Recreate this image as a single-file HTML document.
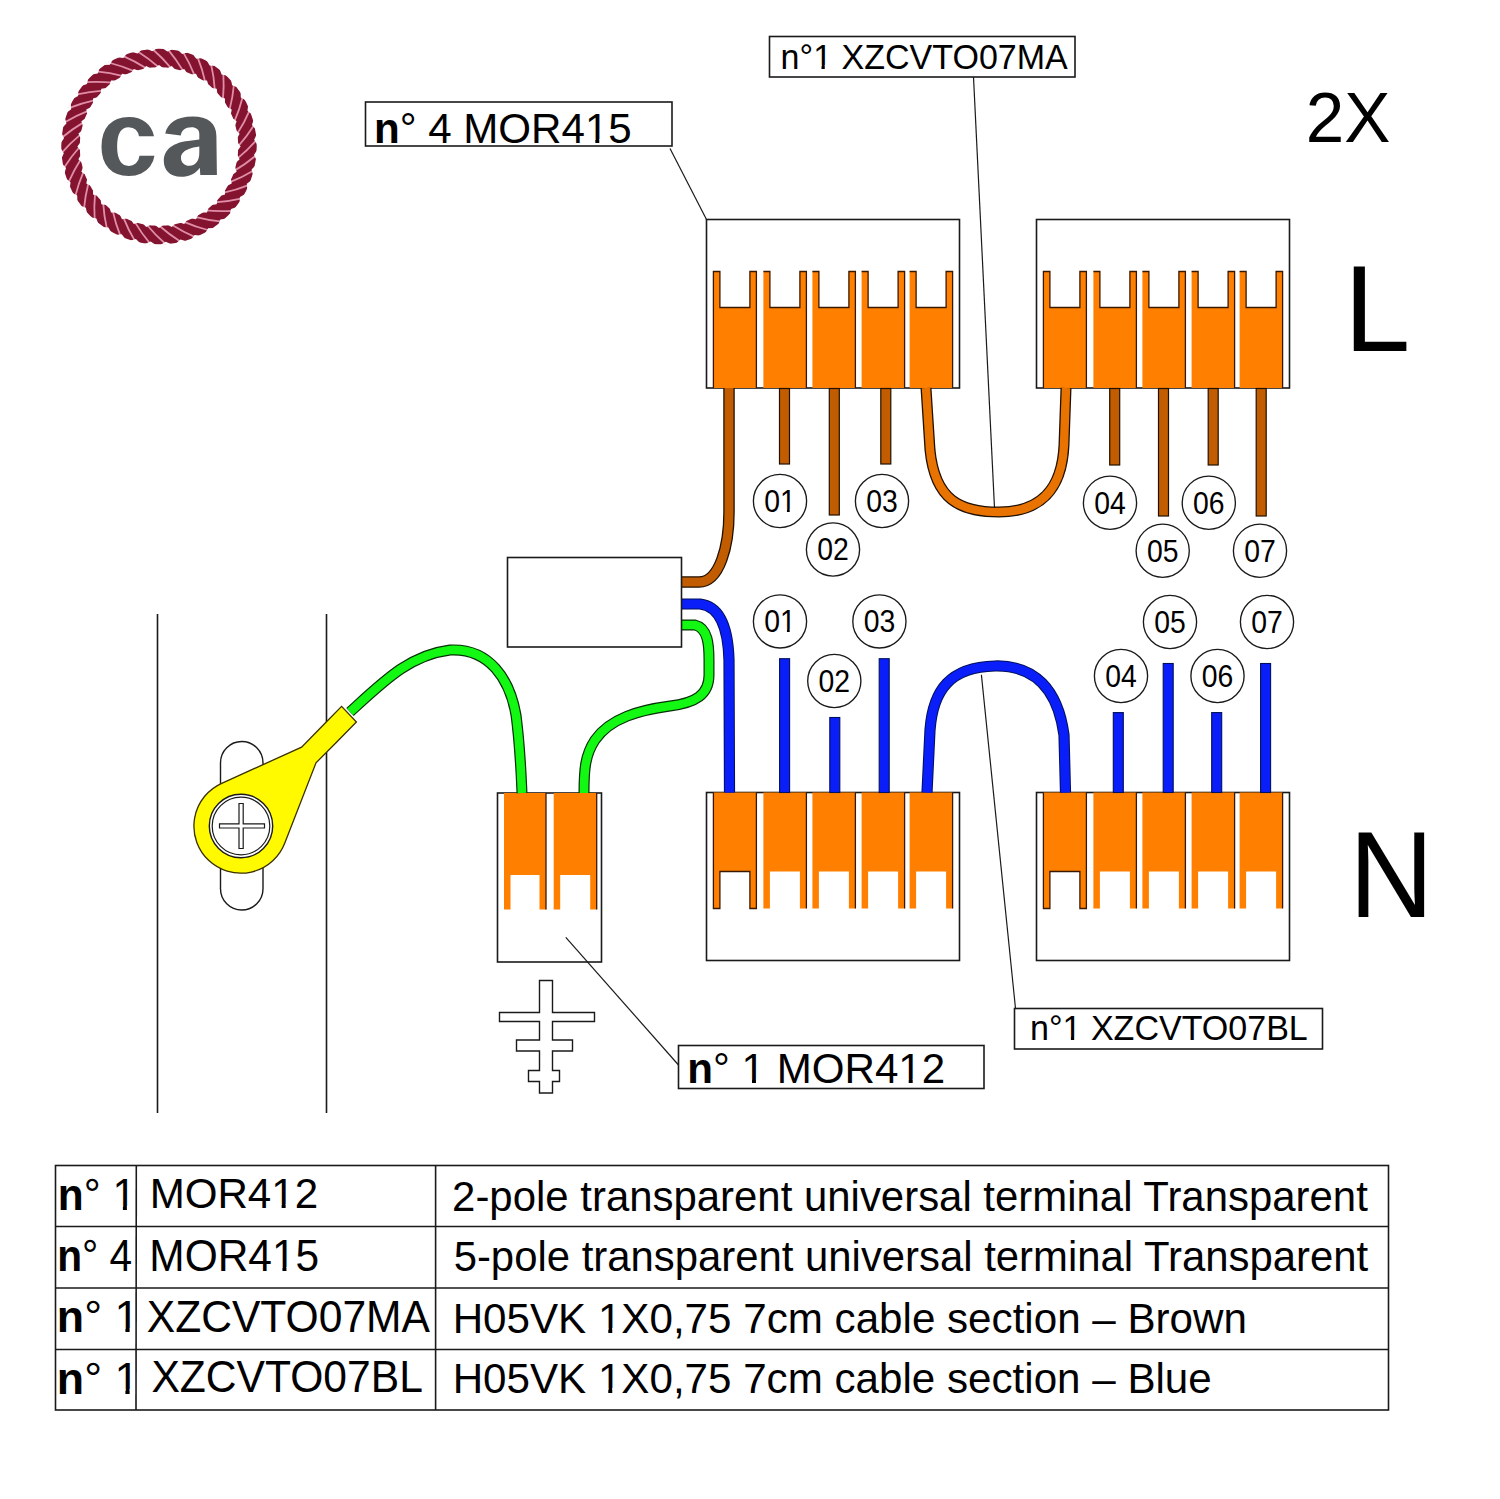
<!DOCTYPE html>
<html><head><meta charset="utf-8"><style>
html,body{margin:0;padding:0;background:#fff;width:1500px;height:1499px;overflow:hidden}
svg{display:block}
</style></head><body>
<svg width="1500" height="1499" viewBox="0 0 1500 1499">
<circle cx="159" cy="146.5" r="88.5" fill="none" stroke="#84132F" stroke-width="18.5"/>
<path d="M238.0,146.5 Q246.9,136.5 254.5,124.5" fill="none" stroke="#E08EA8" stroke-width="1.8"/>
<path d="M253.7,119.0 L252.0,125.0 L256.2,129.7 Z" fill="#fff"/>
<path d="M237.3,142.1 L240.6,146.5 L237.3,150.9 Z" fill="#fff"/>
<path d="M237.0,158.9 Q247.4,150.4 256.8,139.7" fill="none" stroke="#E08EA8" stroke-width="1.8"/>
<path d="M256.8,134.1 L254.2,139.8 L257.6,145.1 Z" fill="#fff"/>
<path d="M237.0,154.4 L239.6,159.3 L235.6,163.1 Z" fill="#fff"/>
<path d="M234.1,170.9 Q245.7,164.1 256.6,155.0" fill="none" stroke="#E08EA8" stroke-width="1.8"/>
<path d="M257.6,149.6 L254.0,154.8 L256.6,160.6 Z" fill="#fff"/>
<path d="M234.8,166.5 L236.6,171.7 L232.1,174.9 Z" fill="#fff"/>
<path d="M229.4,182.4 Q241.9,177.5 254.1,170.2" fill="none" stroke="#E08EA8" stroke-width="1.8"/>
<path d="M255.9,165.0 L251.6,169.6 L253.2,175.7 Z" fill="#fff"/>
<path d="M230.7,178.1 L231.7,183.5 L226.8,185.9 Z" fill="#fff"/>
<path d="M222.9,192.9 Q236.0,190.1 249.2,184.8" fill="none" stroke="#E08EA8" stroke-width="1.8"/>
<path d="M251.8,179.9 L246.8,183.8 L247.5,190.0 Z" fill="#fff"/>
<path d="M224.9,189.0 L225.0,194.5 L219.8,196.1 Z" fill="#fff"/>
<path d="M214.9,202.4 Q228.3,201.6 242.1,198.4" fill="none" stroke="#E08EA8" stroke-width="1.8"/>
<path d="M245.4,194.0 L239.9,197.1 L239.6,203.3 Z" fill="#fff"/>
<path d="M217.4,198.8 L216.7,204.2 L211.3,204.9 Z" fill="#fff"/>
<path d="M205.4,210.4 Q218.8,211.7 233.0,210.8" fill="none" stroke="#E08EA8" stroke-width="1.8"/>
<path d="M236.9,206.9 L231.0,209.1 L229.7,215.2 Z" fill="#fff"/>
<path d="M208.6,207.3 L207.0,212.5 L201.5,212.4 Z" fill="#fff"/>
<path d="M194.9,216.9 Q207.8,220.3 222.0,221.6" fill="none" stroke="#E08EA8" stroke-width="1.8"/>
<path d="M226.5,218.4 L220.3,219.6 L218.1,225.5 Z" fill="#fff"/>
<path d="M198.4,214.3 L196.0,219.2 L190.6,218.2 Z" fill="#fff"/>
<path d="M183.4,221.6 Q195.7,227.0 209.5,230.5" fill="none" stroke="#E08EA8" stroke-width="1.8"/>
<path d="M214.4,228.1 L208.1,228.3 L205.0,233.7 Z" fill="#fff"/>
<path d="M187.4,219.6 L184.2,224.1 L179.0,222.3 Z" fill="#fff"/>
<path d="M171.4,224.5 Q182.7,231.8 195.7,237.4" fill="none" stroke="#E08EA8" stroke-width="1.8"/>
<path d="M201.0,235.7 L194.7,235.0 L190.8,239.8 Z" fill="#fff"/>
<path d="M175.6,223.1 L171.8,227.1 L166.9,224.5 Z" fill="#fff"/>
<path d="M159.0,225.5 Q169.0,234.4 181.0,242.0" fill="none" stroke="#E08EA8" stroke-width="1.8"/>
<path d="M186.5,241.2 L180.5,239.5 L175.8,243.7 Z" fill="#fff"/>
<path d="M163.4,224.8 L159.0,228.1 L154.6,224.8 Z" fill="#fff"/>
<path d="M146.6,224.5 Q155.1,234.9 165.8,244.3" fill="none" stroke="#E08EA8" stroke-width="1.8"/>
<path d="M171.4,244.3 L165.7,241.7 L160.4,245.1 Z" fill="#fff"/>
<path d="M151.1,224.5 L146.2,227.1 L142.4,223.1 Z" fill="#fff"/>
<path d="M134.6,221.6 Q141.4,233.2 150.5,244.1" fill="none" stroke="#E08EA8" stroke-width="1.8"/>
<path d="M155.9,245.1 L150.7,241.5 L144.9,244.1 Z" fill="#fff"/>
<path d="M139.0,222.3 L133.8,224.1 L130.6,219.6 Z" fill="#fff"/>
<path d="M123.1,216.9 Q128.0,229.4 135.3,241.6" fill="none" stroke="#E08EA8" stroke-width="1.8"/>
<path d="M140.5,243.4 L135.9,239.1 L129.8,240.7 Z" fill="#fff"/>
<path d="M127.4,218.2 L122.0,219.2 L119.6,214.3 Z" fill="#fff"/>
<path d="M112.6,210.4 Q115.4,223.5 120.7,236.7" fill="none" stroke="#E08EA8" stroke-width="1.8"/>
<path d="M125.6,239.3 L121.7,234.3 L115.5,235.0 Z" fill="#fff"/>
<path d="M116.5,212.4 L111.0,212.5 L109.4,207.3 Z" fill="#fff"/>
<path d="M103.1,202.4 Q103.9,215.8 107.1,229.6" fill="none" stroke="#E08EA8" stroke-width="1.8"/>
<path d="M111.5,232.9 L108.4,227.4 L102.2,227.1 Z" fill="#fff"/>
<path d="M106.7,204.9 L101.3,204.2 L100.6,198.8 Z" fill="#fff"/>
<path d="M95.1,192.9 Q93.8,206.3 94.7,220.5" fill="none" stroke="#E08EA8" stroke-width="1.8"/>
<path d="M98.6,224.4 L96.4,218.5 L90.3,217.2 Z" fill="#fff"/>
<path d="M98.2,196.1 L93.0,194.5 L93.1,189.0 Z" fill="#fff"/>
<path d="M88.6,182.4 Q85.2,195.3 83.9,209.5" fill="none" stroke="#E08EA8" stroke-width="1.8"/>
<path d="M87.1,214.0 L85.9,207.8 L80.0,205.6 Z" fill="#fff"/>
<path d="M91.2,185.9 L86.3,183.5 L87.3,178.1 Z" fill="#fff"/>
<path d="M83.9,170.9 Q78.5,183.2 75.0,197.0" fill="none" stroke="#E08EA8" stroke-width="1.8"/>
<path d="M77.4,201.9 L77.2,195.6 L71.8,192.5 Z" fill="#fff"/>
<path d="M85.9,174.9 L81.4,171.7 L83.2,166.5 Z" fill="#fff"/>
<path d="M81.0,158.9 Q73.7,170.2 68.1,183.2" fill="none" stroke="#E08EA8" stroke-width="1.8"/>
<path d="M69.8,188.5 L70.5,182.2 L65.7,178.3 Z" fill="#fff"/>
<path d="M82.4,163.1 L78.4,159.3 L81.0,154.4 Z" fill="#fff"/>
<path d="M80.0,146.5 Q71.1,156.5 63.5,168.5" fill="none" stroke="#E08EA8" stroke-width="1.8"/>
<path d="M64.3,174.0 L66.0,168.0 L61.8,163.3 Z" fill="#fff"/>
<path d="M80.7,150.9 L77.4,146.5 L80.7,142.1 Z" fill="#fff"/>
<path d="M81.0,134.1 Q70.6,142.6 61.2,153.3" fill="none" stroke="#E08EA8" stroke-width="1.8"/>
<path d="M61.2,158.9 L63.8,153.2 L60.4,147.9 Z" fill="#fff"/>
<path d="M81.0,138.6 L78.4,133.7 L82.4,129.9 Z" fill="#fff"/>
<path d="M83.9,122.1 Q72.3,128.9 61.4,138.0" fill="none" stroke="#E08EA8" stroke-width="1.8"/>
<path d="M60.4,143.4 L64.0,138.2 L61.4,132.4 Z" fill="#fff"/>
<path d="M83.2,126.5 L81.4,121.3 L85.9,118.1 Z" fill="#fff"/>
<path d="M88.6,110.6 Q76.1,115.5 63.9,122.8" fill="none" stroke="#E08EA8" stroke-width="1.8"/>
<path d="M62.1,128.0 L66.4,123.4 L64.8,117.3 Z" fill="#fff"/>
<path d="M87.3,114.9 L86.3,109.5 L91.2,107.1 Z" fill="#fff"/>
<path d="M95.1,100.1 Q82.0,102.9 68.8,108.2" fill="none" stroke="#E08EA8" stroke-width="1.8"/>
<path d="M66.2,113.1 L71.2,109.2 L70.5,103.0 Z" fill="#fff"/>
<path d="M93.1,104.0 L93.0,98.5 L98.2,96.9 Z" fill="#fff"/>
<path d="M103.1,90.6 Q89.7,91.4 75.9,94.6" fill="none" stroke="#E08EA8" stroke-width="1.8"/>
<path d="M72.6,99.0 L78.1,95.9 L78.4,89.7 Z" fill="#fff"/>
<path d="M100.6,94.2 L101.3,88.8 L106.7,88.1 Z" fill="#fff"/>
<path d="M112.6,82.6 Q99.2,81.3 85.0,82.2" fill="none" stroke="#E08EA8" stroke-width="1.8"/>
<path d="M81.1,86.1 L87.0,83.9 L88.3,77.8 Z" fill="#fff"/>
<path d="M109.4,85.7 L111.0,80.5 L116.5,80.6 Z" fill="#fff"/>
<path d="M123.1,76.1 Q110.2,72.7 96.0,71.4" fill="none" stroke="#E08EA8" stroke-width="1.8"/>
<path d="M91.5,74.6 L97.7,73.4 L99.9,67.5 Z" fill="#fff"/>
<path d="M119.6,78.7 L122.0,73.8 L127.4,74.8 Z" fill="#fff"/>
<path d="M134.6,71.4 Q122.3,66.0 108.5,62.5" fill="none" stroke="#E08EA8" stroke-width="1.8"/>
<path d="M103.6,64.9 L109.9,64.7 L113.0,59.3 Z" fill="#fff"/>
<path d="M130.6,73.4 L133.8,68.9 L139.0,70.7 Z" fill="#fff"/>
<path d="M146.6,68.5 Q135.3,61.2 122.3,55.6" fill="none" stroke="#E08EA8" stroke-width="1.8"/>
<path d="M117.0,57.3 L123.3,58.0 L127.2,53.2 Z" fill="#fff"/>
<path d="M142.4,69.9 L146.2,65.9 L151.1,68.5 Z" fill="#fff"/>
<path d="M159.0,67.5 Q149.0,58.6 137.0,51.0" fill="none" stroke="#E08EA8" stroke-width="1.8"/>
<path d="M131.5,51.8 L137.5,53.5 L142.2,49.3 Z" fill="#fff"/>
<path d="M154.6,68.2 L159.0,64.9 L163.4,68.2 Z" fill="#fff"/>
<path d="M171.4,68.5 Q162.9,58.1 152.2,48.7" fill="none" stroke="#E08EA8" stroke-width="1.8"/>
<path d="M146.6,48.7 L152.3,51.3 L157.6,47.9 Z" fill="#fff"/>
<path d="M166.9,68.5 L171.8,65.9 L175.6,69.9 Z" fill="#fff"/>
<path d="M183.4,71.4 Q176.6,59.8 167.5,48.9" fill="none" stroke="#E08EA8" stroke-width="1.8"/>
<path d="M162.1,47.9 L167.3,51.5 L173.1,48.9 Z" fill="#fff"/>
<path d="M179.0,70.7 L184.2,68.9 L187.4,73.4 Z" fill="#fff"/>
<path d="M194.9,76.1 Q190.0,63.6 182.7,51.4" fill="none" stroke="#E08EA8" stroke-width="1.8"/>
<path d="M177.5,49.6 L182.1,53.9 L188.2,52.3 Z" fill="#fff"/>
<path d="M190.6,74.8 L196.0,73.8 L198.4,78.7 Z" fill="#fff"/>
<path d="M205.4,82.6 Q202.6,69.5 197.3,56.3" fill="none" stroke="#E08EA8" stroke-width="1.8"/>
<path d="M192.4,53.7 L196.3,58.7 L202.5,58.0 Z" fill="#fff"/>
<path d="M201.5,80.6 L207.0,80.5 L208.6,85.7 Z" fill="#fff"/>
<path d="M214.9,90.6 Q214.1,77.2 210.9,63.4" fill="none" stroke="#E08EA8" stroke-width="1.8"/>
<path d="M206.5,60.1 L209.6,65.6 L215.8,65.9 Z" fill="#fff"/>
<path d="M211.3,88.1 L216.7,88.8 L217.4,94.2 Z" fill="#fff"/>
<path d="M222.9,100.1 Q224.2,86.7 223.3,72.5" fill="none" stroke="#E08EA8" stroke-width="1.8"/>
<path d="M219.4,68.6 L221.6,74.5 L227.7,75.8 Z" fill="#fff"/>
<path d="M219.8,96.9 L225.0,98.5 L224.9,104.0 Z" fill="#fff"/>
<path d="M229.4,110.6 Q232.8,97.7 234.1,83.5" fill="none" stroke="#E08EA8" stroke-width="1.8"/>
<path d="M230.9,79.0 L232.1,85.2 L238.0,87.4 Z" fill="#fff"/>
<path d="M226.8,107.1 L231.7,109.5 L230.7,114.9 Z" fill="#fff"/>
<path d="M234.1,122.1 Q239.5,109.8 243.0,96.0" fill="none" stroke="#E08EA8" stroke-width="1.8"/>
<path d="M240.6,91.1 L240.8,97.4 L246.2,100.5 Z" fill="#fff"/>
<path d="M232.1,118.1 L236.6,121.3 L234.8,126.5 Z" fill="#fff"/>
<path d="M237.0,134.1 Q244.3,122.8 249.9,109.8" fill="none" stroke="#E08EA8" stroke-width="1.8"/>
<path d="M248.2,104.5 L247.5,110.8 L252.3,114.7 Z" fill="#fff"/>
<path d="M235.6,129.9 L239.6,133.7 L237.0,138.6 Z" fill="#fff"/>
<text transform="translate(97.36,175.10) scale(1.0022,1)" font-family='"Liberation Sans", sans-serif' font-size="108.33" font-weight="bold" fill="#55585B">c</text>
<path fill-rule="evenodd" fill="#55585B" d="M165.2,133.5 C167.5,123 177,116.5 192.6,116.5 C208,116.5 216.4,123.5 216.4,136 L216.9,174.9 L200.3,174.9 L199.8,167.7 C196,173.5 189,176.8 181,176.8 C170,176.8 163.8,170 163.8,161 C163.8,149 174,142.5 188,141 L199.3,139.5 L199.3,134 C199.3,129.5 196,127.3 191.6,127.3 C185,127.3 181.5,130.5 180.8,135.5 Z M199.3,146.5 C192,147.5 181,150 181,158 C181,162.5 184.5,165.8 189.5,165.8 C196,165.8 199.3,160 199.3,153 Z"/>
<rect x="365.5" y="102" width="306.5" height="44" fill="#fff" stroke="#1a1a1a" stroke-width="1.6"/>
<text transform="translate(373.95,143.40) scale(0.9826,1)" font-family='"Liberation Sans", sans-serif' font-size="42.86" font-weight="normal" fill="#000"><tspan font-weight="bold">n</tspan>° 4 MOR415</text>
<rect x="587" y="139" width="8.31" height="5" fill="#fff"/>
<rect x="599.29" y="139" width="8.71" height="5" fill="#fff"/>
<rect x="769.5" y="36.5" width="305.5" height="40.5" fill="#fff" stroke="#1a1a1a" stroke-width="1.6"/>
<text transform="translate(780.62,68.80) scale(0.9966,1)" font-family='"Liberation Sans", sans-serif' font-size="34.14" font-weight="normal" fill="#000">n°1 XZCVTO07MA</text>
<rect x="814" y="65" width="7.50" height="5" fill="#fff"/>
<rect x="824.77" y="65" width="7.23" height="5" fill="#fff"/>
<rect x="678.5" y="1045.5" width="305.5" height="43" fill="#fff" stroke="#1a1a1a" stroke-width="1.6"/>
<text transform="translate(687.35,1082.70) scale(0.9994,1)" font-family='"Liberation Sans", sans-serif' font-size="42.14" font-weight="normal" fill="#000"><tspan font-weight="bold">n</tspan>° 1 MOR412</text>
<rect x="743" y="1079" width="8.98" height="4" fill="#fff"/>
<rect x="755.96" y="1079" width="8.04" height="4" fill="#fff"/>
<rect x="900" y="1079" width="8.71" height="4" fill="#fff"/>
<rect x="912.70" y="1079" width="8.30" height="4" fill="#fff"/>
<rect x="1014.5" y="1008.5" width="308" height="40.5" fill="#fff" stroke="#1a1a1a" stroke-width="1.6"/>
<text transform="translate(1030.02,1040.00) scale(0.9844,1)" font-family='"Liberation Sans", sans-serif' font-size="34.57" font-weight="normal" fill="#000">n°1 XZCVTO07BL</text>
<rect x="1064" y="1037" width="6.90" height="4" fill="#fff"/>
<rect x="1074.18" y="1037" width="6.82" height="4" fill="#fff"/>
<text transform="translate(1305.74,141.60) scale(0.9848,1)" font-family='"Liberation Sans", sans-serif' font-size="70.29" font-weight="normal" fill="#000">2X</text>
<text transform="translate(1344.05,351.00) scale(0.9778,1)" font-family='"Liberation Sans", sans-serif' font-size="122.03" font-weight="normal" fill="#000">L</text>
<text transform="translate(1348.91,916.80) scale(0.9626,1)" font-family='"Liberation Sans", sans-serif' font-size="121.88" font-weight="normal" fill="#000">N</text>
<line x1="157.5" y1="614" x2="157.5" y2="1113" stroke="#1a1a1a" stroke-width="1.6"/>
<line x1="326.5" y1="614" x2="326.5" y2="1113" stroke="#1a1a1a" stroke-width="1.6"/>
<rect x="706.5" y="219.5" width="253" height="168.5" fill="#fff" stroke="#1a1a1a" stroke-width="1.6"/>
<path d="M713.4,388 V271.5 H719.9 V307.5 H749.9 V271.5 H756.4 V388 Z" fill="#FF8000"/>
<path d="M713.4,388 V271.5 H719.9 V307.5 H749.9 V271.5 H756.4 V388" fill="none" stroke="#3a1800" stroke-width="1.3"/>
<path d="M763.4,388 V271.5 H769.9 V307.5 H799.9 V271.5 H806.4 V388 Z" fill="#FF8000"/>
<path d="M763.4,271.5 H769.9 V307.5 H799.9 V271.5 H806.4 V388" fill="none" stroke="#3a1800" stroke-width="1.3"/>
<path d="M812.4,388 V271.5 H818.9 V307.5 H848.9 V271.5 H855.4 V388 Z" fill="#FF8000"/>
<path d="M812.4,271.5 H818.9 V307.5 H848.9 V271.5 H855.4 V388" fill="none" stroke="#3a1800" stroke-width="1.3"/>
<path d="M861.6,388 V271.5 H868.1 V307.5 H898.1 V271.5 H904.6 V388 Z" fill="#FF8000"/>
<path d="M861.6,271.5 H868.1 V307.5 H898.1 V271.5 H904.6 V388" fill="none" stroke="#3a1800" stroke-width="1.3"/>
<path d="M909.6,388 V271.5 H916.1 V307.5 H946.1 V271.5 H952.6 V388 Z" fill="#FF8000"/>
<path d="M909.6,271.5 H916.1 V307.5 H946.1 V271.5 H952.6 V388" fill="none" stroke="#3a1800" stroke-width="1.3"/>
<rect x="1036.5" y="219.5" width="253" height="168.5" fill="#fff" stroke="#1a1a1a" stroke-width="1.6"/>
<path d="M1043.4,388 V271.5 H1049.9 V307.5 H1079.9 V271.5 H1086.4 V388 Z" fill="#FF8000"/>
<path d="M1043.4,388 V271.5 H1049.9 V307.5 H1079.9 V271.5 H1086.4 V388" fill="none" stroke="#3a1800" stroke-width="1.3"/>
<path d="M1093.4,388 V271.5 H1099.9 V307.5 H1129.9 V271.5 H1136.4 V388 Z" fill="#FF8000"/>
<path d="M1093.4,271.5 H1099.9 V307.5 H1129.9 V271.5 H1136.4 V388" fill="none" stroke="#3a1800" stroke-width="1.3"/>
<path d="M1142.4,388 V271.5 H1148.9 V307.5 H1178.9 V271.5 H1185.4 V388 Z" fill="#FF8000"/>
<path d="M1142.4,271.5 H1148.9 V307.5 H1178.9 V271.5 H1185.4 V388" fill="none" stroke="#3a1800" stroke-width="1.3"/>
<path d="M1191.6,388 V271.5 H1198.1 V307.5 H1228.1 V271.5 H1234.6 V388 Z" fill="#FF8000"/>
<path d="M1191.6,271.5 H1198.1 V307.5 H1228.1 V271.5 H1234.6 V388" fill="none" stroke="#3a1800" stroke-width="1.3"/>
<path d="M1239.6,388 V271.5 H1246.1 V307.5 H1276.1 V271.5 H1282.6 V388 Z" fill="#FF8000"/>
<path d="M1239.6,271.5 H1246.1 V307.5 H1276.1 V271.5 H1282.6 V388" fill="none" stroke="#3a1800" stroke-width="1.3"/>
<rect x="706.5" y="792.5" width="253" height="168" fill="#fff" stroke="#1a1a1a" stroke-width="1.6"/>
<path d="M713.4,792.5 V908.5 H719.9 V871.5 H749.9 V908.5 H756.4 V792.5 Z" fill="#FF8000"/>
<path d="M713.4,792.5 V908.5 H719.9 V871.5 H749.9 V908.5 H756.4 V792.5" fill="none" stroke="#3a1800" stroke-width="1.3"/>
<path d="M763.4,792.5 V908.5 H769.9 V871.5 H799.9 V908.5 H806.4 V792.5 Z" fill="#FF8000"/>
<path d="M806.4,908.5 V792.5" fill="none" stroke="#3a1800" stroke-width="1.3"/>
<path d="M812.4,792.5 V908.5 H818.9 V871.5 H848.9 V908.5 H855.4 V792.5 Z" fill="#FF8000"/>
<path d="M855.4,908.5 V792.5" fill="none" stroke="#3a1800" stroke-width="1.3"/>
<path d="M861.6,792.5 V908.5 H868.1 V871.5 H898.1 V908.5 H904.6 V792.5 Z" fill="#FF8000"/>
<path d="M904.6,908.5 V792.5" fill="none" stroke="#3a1800" stroke-width="1.3"/>
<path d="M909.6,792.5 V908.5 H916.1 V871.5 H946.1 V908.5 H952.6 V792.5 Z" fill="#FF8000"/>
<path d="M952.6,908.5 V792.5" fill="none" stroke="#3a1800" stroke-width="1.3"/>
<rect x="1036.5" y="792.5" width="253" height="168" fill="#fff" stroke="#1a1a1a" stroke-width="1.6"/>
<path d="M1043.4,792.5 V908.5 H1049.9 V871.5 H1079.9 V908.5 H1086.4 V792.5 Z" fill="#FF8000"/>
<path d="M1043.4,792.5 V908.5 H1049.9 V871.5 H1079.9 V908.5 H1086.4 V792.5" fill="none" stroke="#3a1800" stroke-width="1.3"/>
<path d="M1093.4,792.5 V908.5 H1099.9 V871.5 H1129.9 V908.5 H1136.4 V792.5 Z" fill="#FF8000"/>
<path d="M1136.4,908.5 V792.5" fill="none" stroke="#3a1800" stroke-width="1.3"/>
<path d="M1142.4,792.5 V908.5 H1148.9 V871.5 H1178.9 V908.5 H1185.4 V792.5 Z" fill="#FF8000"/>
<path d="M1185.4,908.5 V792.5" fill="none" stroke="#3a1800" stroke-width="1.3"/>
<path d="M1191.6,792.5 V908.5 H1198.1 V871.5 H1228.1 V908.5 H1234.6 V792.5 Z" fill="#FF8000"/>
<path d="M1234.6,908.5 V792.5" fill="none" stroke="#3a1800" stroke-width="1.3"/>
<path d="M1239.6,792.5 V908.5 H1246.1 V871.5 H1276.1 V908.5 H1282.6 V792.5 Z" fill="#FF8000"/>
<path d="M1282.6,908.5 V792.5" fill="none" stroke="#3a1800" stroke-width="1.3"/>
<rect x="497.5" y="793" width="104" height="169" fill="#fff" stroke="#1a1a1a" stroke-width="1.6"/>
<path d="M504,793 V909.5 H510.5 V875 H539.5 V909.5 H546 V793 Z" fill="#FF8000"/>
<path d="M546,909.5 V793" fill="none" stroke="#3a1800" stroke-width="1.3"/>
<path d="M553.7,793 V909.5 H560.2 V875 H590.2 V909.5 H596.7 V793 Z" fill="#FF8000"/>
<path d="M596.7,909.5 V793" fill="none" stroke="#3a1800" stroke-width="1.3"/>
<rect x="779.5" y="388.5" width="10" height="75.5" fill="#C25C00" stroke="#201000" stroke-width="1.2"/>
<rect x="829.3" y="388.5" width="10" height="126.5" fill="#C25C00" stroke="#201000" stroke-width="1.2"/>
<rect x="880.8" y="388.5" width="10" height="75.5" fill="#C25C00" stroke="#201000" stroke-width="1.2"/>
<rect x="1109.7" y="388.5" width="10" height="76.5" fill="#C25C00" stroke="#201000" stroke-width="1.2"/>
<rect x="1158.5" y="388.5" width="10" height="127.5" fill="#C25C00" stroke="#201000" stroke-width="1.2"/>
<rect x="1208.2" y="388.5" width="10" height="76.5" fill="#C25C00" stroke="#201000" stroke-width="1.2"/>
<rect x="1256.2" y="388.5" width="10" height="127.5" fill="#C25C00" stroke="#201000" stroke-width="1.2"/>
<path d="M681,582 H699 C720,582 729,545 729,512 V388" fill="none" stroke="#201000" stroke-width="11.5" stroke-linecap="butt"/>
<path d="M681,582 H699 C720,582 729,545 729,512 V388" fill="none" stroke="#C25C00" stroke-width="8.9" stroke-linecap="butt"/>
<path d="M926,388 L930,450 C935,500 960,512 999,512 C1040,512 1062,490 1064,445 L1066,388" fill="none" stroke="#201000" stroke-width="11" stroke-linecap="butt"/>
<path d="M926,388 L930,450 C935,500 960,512 999,512 C1040,512 1062,490 1064,445 L1066,388" fill="none" stroke="#E87300" stroke-width="8.4" stroke-linecap="butt"/>
<rect x="779.6" y="658.7" width="10" height="133.79999999999995" fill="#0A1EFA" stroke="#00105a" stroke-width="1.1"/>
<rect x="829.8" y="717.5" width="10" height="75.0" fill="#0A1EFA" stroke="#00105a" stroke-width="1.1"/>
<rect x="879.2" y="658.7" width="10" height="133.79999999999995" fill="#0A1EFA" stroke="#00105a" stroke-width="1.1"/>
<rect x="1113.3" y="712.6" width="10" height="79.89999999999998" fill="#0A1EFA" stroke="#00105a" stroke-width="1.1"/>
<rect x="1163.2" y="663.5" width="10" height="129.0" fill="#0A1EFA" stroke="#00105a" stroke-width="1.1"/>
<rect x="1211.7" y="712.6" width="10" height="79.89999999999998" fill="#0A1EFA" stroke="#00105a" stroke-width="1.1"/>
<rect x="1260.6" y="663.5" width="10" height="129.0" fill="#0A1EFA" stroke="#00105a" stroke-width="1.1"/>
<path d="M682,604 H700 C718,606 728,625 729,660 L729.5,792.5" fill="none" stroke="#00105a" stroke-width="11.2" stroke-linecap="butt"/>
<path d="M682,604 H700 C718,606 728,625 729,660 L729.5,792.5" fill="none" stroke="#0A1EFA" stroke-width="9.2" stroke-linecap="butt"/>
<path d="M927,792.5 L930,730 C933,690 950,667 995,666 C1035,665 1058,690 1064,735 L1065.5,792.5" fill="none" stroke="#00105a" stroke-width="11.2" stroke-linecap="butt"/>
<path d="M927,792.5 L930,730 C933,690 950,667 995,666 C1035,665 1058,690 1064,735 L1065.5,792.5" fill="none" stroke="#0A1EFA" stroke-width="9.2" stroke-linecap="butt"/>
<path d="M682,625 H695 C708,628 709,645 709,660 L709,675 C709,695 695,703 670,706 C640,710 610,718 595,740 C585,755 584,770 584,793" fill="none" stroke="#053005" stroke-width="11" stroke-linecap="butt"/>
<path d="M682,625 H695 C708,628 709,645 709,660 L709,675 C709,695 695,703 670,706 C640,710 610,718 595,740 C585,755 584,770 584,793" fill="none" stroke="#12F812" stroke-width="8.6" stroke-linecap="butt"/>
<path d="M350,712 C385,680 410,655 450,650 C490,648 510,680 516,715 C520,745 521,770 522,793" fill="none" stroke="#053005" stroke-width="11" stroke-linecap="butt"/>
<path d="M350,712 C385,680 410,655 450,650 C490,648 510,680 516,715 C520,745 521,770 522,793" fill="none" stroke="#12F812" stroke-width="8.6" stroke-linecap="butt"/>
<rect x="507.5" y="557.5" width="174" height="89.5" fill="#fff" stroke="#1a1a1a" stroke-width="1.6"/>
<line x1="670" y1="148.5" x2="706.5" y2="219.5" stroke="#1a1a1a" stroke-width="1.2"/>
<line x1="973.5" y1="77" x2="994.5" y2="508" stroke="#1a1a1a" stroke-width="1.2"/>
<line x1="565.8" y1="937.4" x2="678.5" y2="1065" stroke="#1a1a1a" stroke-width="1.2"/>
<line x1="981.4" y1="674.7" x2="1015.5" y2="1008.5" stroke="#1a1a1a" stroke-width="1.2"/>
<circle cx="780" cy="501" r="26.6" fill="#fff" stroke="#1a1a1a" stroke-width="1.35"/>
<text transform="translate(780,511.8) scale(0.93,1)" text-anchor="middle" font-family='"Liberation Sans", sans-serif' font-size="30.5" fill="#000">01</text>
<rect x="781" y="509" width="5.93" height="4" fill="#fff"/>
<rect x="789.71" y="509" width="6.29" height="4" fill="#fff"/>
<circle cx="833" cy="549.5" r="26.6" fill="#fff" stroke="#1a1a1a" stroke-width="1.35"/>
<text transform="translate(833,560.3) scale(0.93,1)" text-anchor="middle" font-family='"Liberation Sans", sans-serif' font-size="30.5" fill="#000">02</text>
<circle cx="882" cy="501" r="26.6" fill="#fff" stroke="#1a1a1a" stroke-width="1.35"/>
<text transform="translate(882,511.8) scale(0.93,1)" text-anchor="middle" font-family='"Liberation Sans", sans-serif' font-size="30.5" fill="#000">03</text>
<circle cx="1110" cy="502.7" r="26.6" fill="#fff" stroke="#1a1a1a" stroke-width="1.35"/>
<text transform="translate(1110,513.5) scale(0.93,1)" text-anchor="middle" font-family='"Liberation Sans", sans-serif' font-size="30.5" fill="#000">04</text>
<circle cx="1162.7" cy="550.7" r="26.6" fill="#fff" stroke="#1a1a1a" stroke-width="1.35"/>
<text transform="translate(1162.7,561.5) scale(0.93,1)" text-anchor="middle" font-family='"Liberation Sans", sans-serif' font-size="30.5" fill="#000">05</text>
<circle cx="1208.8" cy="502.7" r="26.6" fill="#fff" stroke="#1a1a1a" stroke-width="1.35"/>
<text transform="translate(1208.8,513.5) scale(0.93,1)" text-anchor="middle" font-family='"Liberation Sans", sans-serif' font-size="30.5" fill="#000">06</text>
<circle cx="1260" cy="550.7" r="26.6" fill="#fff" stroke="#1a1a1a" stroke-width="1.35"/>
<text transform="translate(1260,561.5) scale(0.93,1)" text-anchor="middle" font-family='"Liberation Sans", sans-serif' font-size="30.5" fill="#000">07</text>
<circle cx="780" cy="621.4" r="26.6" fill="#fff" stroke="#1a1a1a" stroke-width="1.35"/>
<text transform="translate(780,632.1999999999999) scale(0.93,1)" text-anchor="middle" font-family='"Liberation Sans", sans-serif' font-size="30.5" fill="#000">01</text>
<rect x="781" y="629" width="5.93" height="4" fill="#fff"/>
<rect x="789.71" y="629" width="6.29" height="4" fill="#fff"/>
<circle cx="834.3" cy="681" r="26.6" fill="#fff" stroke="#1a1a1a" stroke-width="1.35"/>
<text transform="translate(834.3,691.8) scale(0.93,1)" text-anchor="middle" font-family='"Liberation Sans", sans-serif' font-size="30.5" fill="#000">02</text>
<circle cx="879.4" cy="621.4" r="26.6" fill="#fff" stroke="#1a1a1a" stroke-width="1.35"/>
<text transform="translate(879.4,632.1999999999999) scale(0.93,1)" text-anchor="middle" font-family='"Liberation Sans", sans-serif' font-size="30.5" fill="#000">03</text>
<circle cx="1121" cy="676" r="26.6" fill="#fff" stroke="#1a1a1a" stroke-width="1.35"/>
<text transform="translate(1121,686.8) scale(0.93,1)" text-anchor="middle" font-family='"Liberation Sans", sans-serif' font-size="30.5" fill="#000">04</text>
<circle cx="1170" cy="622" r="26.6" fill="#fff" stroke="#1a1a1a" stroke-width="1.35"/>
<text transform="translate(1170,632.8) scale(0.93,1)" text-anchor="middle" font-family='"Liberation Sans", sans-serif' font-size="30.5" fill="#000">05</text>
<circle cx="1217.5" cy="676" r="26.6" fill="#fff" stroke="#1a1a1a" stroke-width="1.35"/>
<text transform="translate(1217.5,686.8) scale(0.93,1)" text-anchor="middle" font-family='"Liberation Sans", sans-serif' font-size="30.5" fill="#000">06</text>
<circle cx="1267" cy="622" r="26.6" fill="#fff" stroke="#1a1a1a" stroke-width="1.35"/>
<text transform="translate(1267,632.8) scale(0.93,1)" text-anchor="middle" font-family='"Liberation Sans", sans-serif' font-size="30.5" fill="#000">07</text>
<rect x="220.5" y="741.5" width="42.5" height="168.5" rx="21.25" fill="#fff" stroke="#1a1a1a" stroke-width="1.4"/>
<path d="M221.7,783.3 L301.6,747.2 L321.6,726.8 L341.6,706.4 L356.4,722 L336,742.8 L316,762.8 L284.8,843 A47,47 0 1,1 221.7,783.3 Z" fill="#FFFA00" stroke="#3a3000" stroke-width="1.3"/>
<circle cx="241" cy="826" r="31.7" fill="#fff" stroke="#1a1a1a" stroke-width="1.4"/>
<circle cx="241" cy="826" r="28.8" fill="none" stroke="#1a1a1a" stroke-width="1.2"/>
<path d="M219.5,823.8 H239 V803.5 H243.2 V823.8 H264.5 V828 H243.2 V848.5 H239 V828 H219.5 Z" fill="#fff" stroke="#1a1a1a" stroke-width="1.2"/>
<path d="M539.5,980.5 H552.5 V1012.5 H594.5 V1021.5 H552.5 V1040 H572.5 V1051 H552.5 V1070.5 H559.5 V1081.5 H552.5 V1093 H539.5 V1081.5 H528.5 V1070.5 H539.5 V1051 H516.5 V1040 H539.5 V1021.5 H499.5 V1012.5 H539.5 Z" fill="#fff" stroke="#1a1a1a" stroke-width="1.4"/>
<text transform="translate(57.83,1209.80) scale(0.9633,1)" font-family='"Liberation Sans", sans-serif' font-size="44.00" font-weight="normal" fill="#000"><tspan font-weight="bold">n</tspan>° 1</text>
<rect x="114" y="1206" width="8.89" height="5" fill="#fff"/>
<rect x="126.90" y="1206" width="8.10" height="5" fill="#fff"/>
<text transform="translate(149.63,1208.30) scale(0.9730,1)" font-family='"Liberation Sans", sans-serif' font-size="43.29" font-weight="normal" fill="#000">MOR412</text>
<rect x="273" y="1204" width="8.64" height="5" fill="#fff"/>
<rect x="285.63" y="1204" width="8.37" height="5" fill="#fff"/>
<text transform="translate(452.10,1211.40) scale(0.9656,1)" font-family='"Liberation Sans", sans-serif' font-size="43.43" font-weight="normal" fill="#000">2-pole transparent universal terminal Transparent</text>
<text transform="translate(57.26,1270.90) scale(0.9116,1)" font-family='"Liberation Sans", sans-serif' font-size="44.57" font-weight="normal" fill="#000"><tspan font-weight="bold">n</tspan>° 4</text>
<text transform="translate(149.30,1270.90) scale(0.9529,1)" font-family='"Liberation Sans", sans-serif' font-size="44.57" font-weight="normal" fill="#000">MOR415</text>
<rect x="274" y="1267" width="8.43" height="5" fill="#fff"/>
<rect x="286.44" y="1267" width="8.56" height="5" fill="#fff"/>
<text transform="translate(453.63,1271.00) scale(0.9769,1)" font-family='"Liberation Sans", sans-serif' font-size="42.86" font-weight="normal" fill="#000">5-pole transparent universal terminal Transparent</text>
<text transform="translate(56.87,1332.20) scale(1.0017,1)" font-family='"Liberation Sans", sans-serif' font-size="44.57" font-weight="normal" fill="#000"><tspan font-weight="bold">n</tspan>° 1</text>
<rect x="116" y="1328" width="9.40" height="5" fill="#fff"/>
<rect x="129.61" y="1328" width="8.39" height="5" fill="#fff"/>
<text transform="translate(146.82,1331.70) scale(0.9709,1)" font-family='"Liberation Sans", sans-serif' font-size="43.86" font-weight="normal" fill="#000">XZCVTO07MA</text>
<text transform="translate(452.63,1332.50) scale(0.9903,1)" font-family='"Liberation Sans", sans-serif' font-size="42.57" font-weight="normal" fill="#000">H05VK 1X0,75 7cm cable section – Brown</text>
<rect x="600" y="1328" width="8.28" height="5" fill="#fff"/>
<rect x="612.27" y="1328" width="7.73" height="5" fill="#fff"/>
<text transform="translate(56.87,1393.50) scale(1.0017,1)" font-family='"Liberation Sans", sans-serif' font-size="44.57" font-weight="normal" fill="#000"><tspan font-weight="bold">n</tspan>° 1</text>
<rect x="116" y="1389" width="9.40" height="5" fill="#fff"/>
<rect x="129.61" y="1389" width="8.39" height="5" fill="#fff"/>
<text transform="translate(151.42,1392.20) scale(0.9713,1)" font-family='"Liberation Sans", sans-serif' font-size="43.86" font-weight="normal" fill="#000">XZCVTO07BL</text>
<text transform="translate(452.63,1392.60) scale(0.9872,1)" font-family='"Liberation Sans", sans-serif' font-size="42.71" font-weight="normal" fill="#000">H05VK 1X0,75 7cm cable section – Blue</text>
<rect x="600" y="1388" width="8.27" height="5" fill="#fff"/>
<rect x="612.26" y="1388" width="7.74" height="5" fill="#fff"/>
<rect x="55.5" y="1165.5" width="1333.0" height="244.5" fill="none" stroke="#1a1a1a" stroke-width="1.6"/>
<line x1="55.5" y1="1226.5" x2="1388.5" y2="1226.5" stroke="#1a1a1a" stroke-width="1.6"/>
<line x1="55.5" y1="1288" x2="1388.5" y2="1288" stroke="#1a1a1a" stroke-width="1.6"/>
<line x1="55.5" y1="1349.5" x2="1388.5" y2="1349.5" stroke="#1a1a1a" stroke-width="1.6"/>
<line x1="136.3" y1="1165.5" x2="136" y2="1410" stroke="#1a1a1a" stroke-width="1.6"/>
<line x1="435.6" y1="1165.5" x2="435.6" y2="1410" stroke="#1a1a1a" stroke-width="1.6"/>
</svg>
</body></html>
